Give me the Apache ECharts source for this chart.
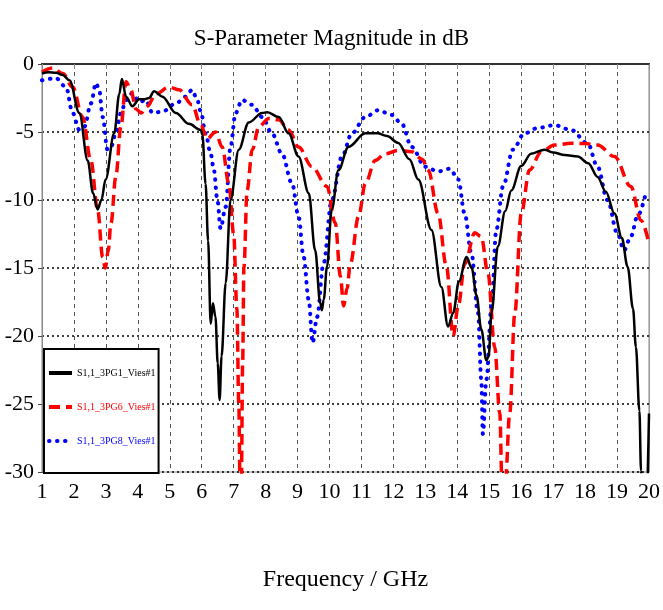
<!DOCTYPE html>
<html>
<head>
<meta charset="utf-8">
<script src="https://cdn.jsdelivr.net/npm/echarts@6/dist/echarts.min.js"></script>
<style>
  html, body { margin: 0; padding: 0; background: #fff; }
  #chart { width: 663px; height: 610px; }
</style>
</head>
<body>
<div id="chart"></div>
<script>
// frequency (GHz) / magnitude (dB)
var pg1Freq = [1.0, 1.2, 1.44, 1.65, 1.86, 2.17, 2.43, 2.6, 2.74, 2.86, 2.99, 3.26, 3.42, 3.5, 3.63, 3.83, 4.04, 4.2, 4.35, 4.51, 4.77, 5.19, 5.6, 5.97, 6.02, 6.12, 6.2, 6.28, 6.35, 6.43, 6.5, 6.56, 6.62, 6.75, 6.9, 7.16, 7.47, 7.89, 8.05, 8.41, 8.72, 9.03, 9.35, 9.55, 9.71, 9.76, 9.82, 9.92, 10.07, 10.28, 10.59, 11.12, 11.5, 11.8, 12.15, 12.5, 12.78, 13.19, 13.5, 13.71, 13.87, 14.05, 14.29, 14.45, 14.6, 14.75, 14.91, 14.98, 15.07, 15.27, 15.5, 15.69, 16.0, 16.31, 16.73, 17.0, 17.36, 17.77, 18.1, 18.39, 18.65, 18.92, 19.15, 19.33, 19.5, 19.59, 19.7, 19.75, 19.8, 19.9, 20.0];
var pg1Db = [-0.7, -0.6, -0.64, -0.8, -1.2, -3.6, -7.1, -9.5, -10.7, -10.0, -8.5, -5.1, -2.2, -1.1, -2.4, -3.1, -2.6, -2.6, -2.5, -2.0, -2.4, -3.6, -4.4, -4.85, -5.2, -8.8, -13, -19.1, -17.6, -18.6, -22, -24.7, -21.5, -16.1, -10, -6.3, -4.3, -3.6, -3.55, -3.9, -5.1, -6.8, -9.5, -13.7, -17.6, -18.1, -17.3, -14.9, -10.7, -7.8, -6.1, -5.1, -5.1, -5.3, -5.8, -7.0, -8.5, -12.2, -16.4, -19.3, -18.3, -16, -14.2, -15, -17, -19.5, -21.8, -21.5, -18.3, -13.4, -10.8, -9.3, -7.5, -6.6, -6.3, -6.5, -6.7, -6.8, -7.3, -8.3, -9.4, -11.0, -12.8, -14.9, -18, -20.8, -25.5, -29.9, -34, -34, -25.7];

var pg6Freq = [1.0, 1.34, 1.65, 1.96, 2.27, 2.53, 2.74, 2.9, 2.98, 3.07, 3.16, 3.31, 3.47, 3.63, 3.78, 3.94, 4.1, 4.3, 4.56, 4.98, 5.29, 5.7, 5.97, 6.17, 6.43, 6.64, 6.85, 7.0, 7.1, 7.16, 7.2, 7.24, 7.28, 7.32, 7.42, 7.58, 7.79, 8.1, 8.41, 8.72, 9.03, 9.45, 9.92, 10.18, 10.34, 10.44, 10.55, 10.65, 10.91, 11.12, 11.43, 11.74, 12.15, 12.57, 12.9, 13.09, 13.4, 13.66, 13.87, 14.03, 14.23, 14.55, 14.75, 14.96, 15.17, 15.33, 15.4, 15.5, 15.64, 15.8, 16.0, 16.26, 16.63, 17.04, 17.56, 18.0, 18.39, 18.92, 19.43, 19.75, 20.0];
var pg6Db = [-0.6, -0.3, -0.7, -1.7, -3.9, -7.1, -10.7, -14.2, -15, -13.8, -11.7, -8.3, -4.6, -1.3, -1.9, -3.3, -3.6, -3.1, -2.2, -1.7, -1.9, -3.0, -4.5, -5.5, -5.0, -6.1, -8.8, -12.5, -18, -25, -31, -31, -22, -15, -9.3, -6.3, -4.6, -4.0, -4.1, -4.85, -6.1, -7.55, -9.0, -11.7, -15.6, -17.8, -16.5, -14.7, -11.2, -8.8, -7.1, -6.6, -6.35, -6.45, -7.0, -7.8, -11.0, -14.9, -20.0, -17.8, -14.7, -12.4, -12.7, -15.4, -20.8, -25.7, -31, -31, -25.7, -18.3, -11.0, -7.8, -6.45, -5.96, -5.83, -5.85, -5.96, -6.8, -9.0, -11.5, -13.2];

var pg8Freq = [1.0, 1.44, 1.75, 1.96, 2.17, 2.33, 2.53, 2.69, 2.79, 2.9, 3.05, 3.16, 3.31, 3.47, 3.63, 3.83, 4.04, 4.25, 4.46, 4.77, 5.19, 5.5, 5.7, 5.86, 5.97, 6.12, 6.28, 6.38, 6.49, 6.59, 6.75, 6.9, 7.06, 7.26, 7.58, 7.89, 8.2, 8.51, 8.83, 9.03, 9.19, 9.35, 9.47, 9.61, 9.81, 10.07, 10.39, 10.7, 11.12, 11.53, 11.95, 12.26, 12.57, 12.99, 13.4, 13.77, 14.03, 14.23, 14.44, 14.65, 14.75, 14.8, 14.91, 15.07, 15.22, 15.43, 15.74, 16.1, 16.52, 17.04, 17.56, 18.08, 18.39, 18.7, 19.01, 19.22, 19.43, 19.64, 19.9];
var pg8Db = [-1.2, -1.05, -1.7, -3.6, -4.85, -4.6, -2.9, -1.4, -1.9, -3.9, -6.3, -6.1, -5.1, -3.6, -2.65, -2.15, -2.8, -2.65, -3.6, -3.5, -2.9, -2.4, -1.9, -2.65, -3.5, -5.1, -6.6, -7.8, -10, -12.1, -10.5, -6.1, -3.6, -2.65, -3.0, -3.9, -5.1, -6.6, -8.8, -11.2, -14.2, -17.35, -20.5, -18.6, -14.7, -10, -6.8, -5.1, -3.9, -3.4, -3.75, -4.4, -6.1, -7.55, -7.9, -7.7, -8.5, -11.0, -13.9, -18.3, -23.2, -27.2, -23.2, -17.8, -12.2, -9.0, -6.3, -5.1, -4.7, -4.5, -4.85, -5.83, -7.55, -10, -12.45, -13.7, -12.7, -11.2, -9.5];

var seriesNames = ['S1,1_3PG1_Vies#1', 'S1,1_3PG6_Vies#1', 'S1,1_3PG8_Vies#1'];
var seriesColors = ['#000000', '#ff0000', '#0000ff'];

function pairs(xs, ys) {
    return xs.map(function (x, i) { return [x, ys[i]]; });
}

var serif = 'Liberation Serif';

var chart = echarts.init(document.getElementById('chart'));

chart.setOption({
    backgroundColor: '#fff',
    animation: false,
    title: {
        text: 'S-Parameter Magnitude in dB',
        left: 'center',
        top: 22,
        textStyle: { fontFamily: serif, fontSize: 23, fontWeight: 'normal', color: '#000' }
    },
    legend: {
        orient: 'vertical',
        left: 44,
        top: 349,
        padding: [19, 3, 27, 3],
        itemWidth: 23,
        itemHeight: 12,
        itemGap: 24,
        backgroundColor: '#fff',
        borderColor: '#000',
        borderWidth: 2,
        borderRadius: 0,
        itemStyle: { opacity: 0 },
        lineStyle: { width: 4 },
        data: [
            { name: seriesNames[0], textStyle: { color: seriesColors[0] } },
            { name: seriesNames[1], textStyle: { color: seriesColors[1] } },
            { name: seriesNames[2], textStyle: { color: seriesColors[2] } }
        ],
        textStyle: { fontFamily: serif, fontSize: 10 }
    },
    grid: {
        left: 42,
        right: 12,
        top: 64,
        bottom: 138,
        show: true,
        borderColor: '#888',
        borderWidth: 1
    },
    xAxis: [{
        type: 'value',
        min: 1,
        max: 20,
        interval: 1,
        name: 'Frequency / GHz',
        nameLocation: 'middle',
        nameGap: 96,
        nameTextStyle: { fontFamily: serif, fontSize: 24, color: '#000' },
        axisLine: { lineStyle: { color: '#222', width: 2 } },
        axisTick: { length: 5, lineStyle: { color: '#888' } },
        axisLabel: { fontFamily: serif, fontSize: 22, color: '#000', margin: 9 },
        splitLine: { show: true, lineStyle: { color: '#555', type: [4, 4], width: 1 } }
    }, {
        type: 'value',
        position: 'top',
        min: 1,
        max: 20,
        interval: 1,
        axisLine: { lineStyle: { color: '#333', width: 2 } },
        axisTick: { inside: true, length: 5, lineStyle: { color: '#888' } },
        axisLabel: { show: false },
        splitLine: { show: false }
    }],
    yAxis: [{
        type: 'value',
        min: -30,
        max: 0,
        interval: 5,
        axisLine: { show: true, lineStyle: { color: '#888', width: 1 } },
        axisTick: { show: true, length: 4, lineStyle: { color: '#444' } },
        axisLabel: { fontFamily: serif, fontSize: 22, color: '#000', margin: 8 },
        splitLine: { show: true, lineStyle: { color: '#000', type: [2, 3], width: 1.5 } }
    }, {
        type: 'value',
        position: 'right',
        min: -30,
        max: 0,
        interval: 5,
        axisLine: { show: true, lineStyle: { color: '#999', width: 1 } },
        axisTick: { show: false },
        axisLabel: { show: false },
        splitLine: { show: false }
    }],
    series: [{
        name: seriesNames[0],
        type: 'line',
        data: pairs(pg1Freq, pg1Db),
        symbol: 'none',
        smooth: 0.35,
        smoothMonotone: 'x',
        color: seriesColors[0],
        lineStyle: { color: seriesColors[0], width: 2.5 },
        z: 4
    }, {
        name: seriesNames[1],
        type: 'line',
        data: pairs(pg6Freq, pg6Db),
        symbol: 'none',
        smooth: 0.35,
        smoothMonotone: 'x',
        color: seriesColors[1],
        lineStyle: { color: seriesColors[1], width: 3.5, type: [11, 6] },
        z: 3
    }, {
        name: seriesNames[2],
        type: 'line',
        data: pairs(pg8Freq, pg8Db),
        symbol: 'none',
        smooth: 0.35,
        smoothMonotone: 'x',
        color: seriesColors[2],
        lineStyle: { color: seriesColors[2], width: 4, type: [0.5, 7.5], cap: 'round' },
        z: 2
    }]
});
</script>
</body>
</html>
